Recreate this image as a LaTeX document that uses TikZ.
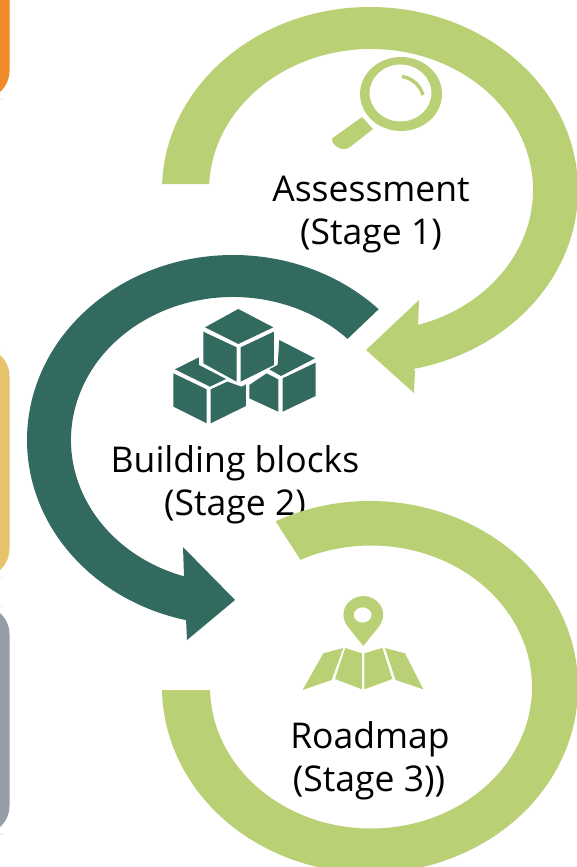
\documentclass[tikz,border=0pt]{standalone}
\usepackage{fontspec}
\setmainfont{Open Sans}
\definecolor{lime}{HTML}{B9D075}
\definecolor{pine}{HTML}{326A60}
\definecolor{barorange}{HTML}{F08A28}
\definecolor{baryellow}{HTML}{E5C46B}
\definecolor{bargray}{HTML}{959EA8}
\tikzset{
  sidebar/.style={rounded corners=28pt},
  label/.style={anchor=base,inner sep=0pt,font=\fontsize{35.5}{38}\selectfont,text=black},
}
\begin{document}
\begin{tikzpicture}[x=1pt,y=1pt,yscale=-1]
\useasboundingbox (0,0) rectangle (577,867);
\clip (0,0) rectangle (577,867);
\fill[white] (0,0) rectangle (577,867);
% side bars
\fill[barorange,sidebar] (-25,-50) rectangle (9.5,99);
\fill[baryellow,sidebar] (-25,348) rectangle (9.5,577);
\fill[bargray,sidebar] (-25,606) rectangle (9.5,834);
% arrow 1
\fill[lime] (162,184) -- ([shift={(370,190)}]-178:208pt and 183pt)
  arc[start angle=-178,end angle=78,x radius=208pt,y radius=183pt]
  -- (415,370) -- (414,393) -- (366,350) -- (419,300) -- (418,328)
  -- ([shift={(371,190)}]76:162pt and 141pt)
  arc[start angle=76,end angle=-177.6,x radius=162pt,y radius=141pt]
  -- (210,184) -- cycle;
% arrow 2
\fill[pine] ([shift={(233,440)}]-45:206pt and 185pt)
  arc[start angle=-45,end angle=-257,x radius=206pt,y radius=185pt]
  -- (186,618) -- (187,640) -- (235,600) -- (183,547) -- (184,576)
  -- ([shift={(233,440)}]-253:162pt and 143pt)
  arc[start angle=-253,end angle=-45,x radius=162pt,y radius=143pt]
  -- cycle;
% labels
\node[label] (stageone) at (371,201) {Assessment};
\node[label] (stageonesub) at (371,244) {(Stage 1)};
\node[label] (stagetwo) at (235,472) {Building blocks};
\node[label] (stagetwosub) at (235,515) {(Stage 2)};
\node[label] (stagethree) at (370,748) {Roadmap};
\node[label] (stagethreesub) at (369,791) {(Stage 3))};
% arrow 3 (tail-less ring)
\fill[lime] ([shift={(370,687)}]-117:208pt and 186pt)
  arc[start angle=-117,end angle=179,x radius=208pt,y radius=186pt]
  -- (162,690) -- (210,690)
  -- ([shift={(371,687)}]179:161pt and 141.5pt)
  arc[start angle=179,end angle=-116,x radius=161pt,y radius=141.5pt]
  -- cycle;
% magnifier
\fill[lime,even odd rule] (401,94) ellipse[x radius=41,y radius=37]
  (400.5,93) ellipse[x radius=31,y radius=28.5];
\draw[lime,line width=3.5pt] (402,76.5) .. controls (412,78) and (420,85) .. (423,95);
\fill[lime] (362,117) -- (373,129) -- (350,147) .. controls (344,151) and (337,149) .. (333,143)
  .. controls (331,139) and (332,138) .. (334,137) -- cycle;
% cubes
\begin{scope}[pine,x=0.3333pt,y=0.3333pt,shift={(0pt,270pt)}]
\fill (715,117) -- (820,172) -- (715,222) -- (615,172) -- cycle;
\fill (610,185) -- (710,232) -- (710,335) -- (610,280) -- cycle;
\fill (722,232) -- (822,185) -- (822,285) -- (722,335) -- cycle;
\fill (525,298) -- (597,262) -- (597,285) -- (678,327) -- (630,350) -- cycle;
\fill (520,310) -- (620,358) -- (620,460) -- (520,410) -- cycle;
\fill (632,358) -- (682,335) -- (725,350) -- (738,343) -- (738,408) -- (632,460) -- cycle;
\fill (838,210) -- (945,265) -- (843,318) -- (808,298) -- (833,285) -- cycle;
\fill (748,345) -- (800,310) -- (835,328) -- (835,425) -- (748,385) -- cycle;
\fill (848,325) -- (947,278) -- (947,378) -- (848,425) -- cycle;
\end{scope}
% map
\begin{scope}[lime,x=0.3333pt,y=0.3333pt,shift={(150pt,500pt)}]
\fill[even odd rule] (640,438) -- (592,378) .. controls (560,330) and (600,288) .. (640,288)
  .. controls (680,288) and (720,330) .. (688,378) -- cycle
  (638,345) ellipse[x radius=27,y radius=23];
\fill (520,460) -- (580,444) -- (545,540) -- (458,570) -- cycle;
\fill (586,444) -- (636,460) -- (636,568) -- (555,537) -- cycle;
\fill (643,460) -- (697,444) -- (727,537) -- (643,568) -- cycle;
\fill (705,444) -- (765,460) -- (820,568) -- (737,540) -- cycle;
\end{scope}
\end{tikzpicture}
\end{document}
